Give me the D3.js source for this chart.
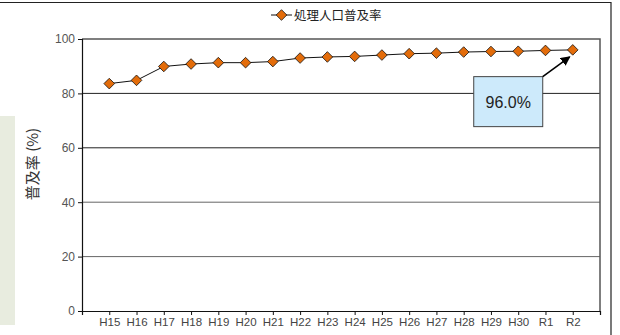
<!DOCTYPE html>
<html>
<head>
<meta charset="utf-8">
<script src="https://cdn.jsdelivr.net/npm/d3@7"></script>
<style>
  body { margin:0; background:#fff; }
  svg text { font-family:"Liberation Sans", Arial, sans-serif; }
</style>
</head>
<body>
<div id="canvas"></div>
<script>
// data
var years = ['H15','H16','H17','H18','H19','H20','H21','H22','H23','H24','H25','H26','H27','H28','H29','H30','R1','R2'];
var rate = [83.6,84.8,89.9,90.8,91.3,91.3,91.7,93.0,93.4,93.6,94.1,94.6,94.8,95.2,95.4,95.5,95.8,96.0];
var yTicks = [0,20,40,60,80,100];
var seriesName = '処理人口普及率';
var calloutText = '96.0%';

var W = 620, H = 335;
var m = {t:39, r:20, b:24, l:82};
var w = W - m.l - m.r,
    h = H - m.t - m.b;

var svg = d3.select('#canvas').append('svg')
    .attr('width', W).attr('height', H);

svg.append('defs').append('marker')
    .attr('id','arrow').attr('viewBox','0 0 10 10')
    .attr('refX',9).attr('refY',5)
    .attr('markerWidth',6).attr('markerHeight',6)
    .attr('orient','auto')
    .append('path').attr('d','M0,0L10,5L0,10z').attr('fill','#000');

// side panel + outer frame
svg.append('rect').attr('x',0).attr('y',116).attr('width',15).attr('height',209).attr('fill','#e8ecdf');
svg.append('path').attr('d','M0,2.5H611V335').attr('fill','none').attr('stroke','#222').attr('stroke-width',1.2);

var plot = svg.append('g').attr('transform','translate(' + m.l + ',' + m.t + ')');

var x = d3.scalePoint().domain(years).range([0, w]).padding(1);
var y = d3.scaleLinear().domain([0,100]).range([h, 0]);

// gridlines
plot.selectAll('.grid').data(yTicks.filter(function(d){ return d > 0 && d < 100; }))
    .enter().append('line')
    .attr('x1',0).attr('x2',w)
    .attr('y1',function(d){ return y(d); }).attr('y2',function(d){ return y(d); })
    .attr('stroke',function(d){ return d >= 60 ? '#222' : '#666'; })
    .attr('stroke-width',1);

// plot border top/right
plot.append('path').attr('d','M0,0H' + w + 'V' + h)
    .attr('fill','none').attr('stroke','#555').attr('stroke-width',1.5);

// axes
var axisY = d3.axisLeft(y).tickValues(yTicks).tickSize(4).tickPadding(3);
var gy = plot.append('g').call(axisY);
gy.select('.domain').attr('stroke','#111').attr('stroke-width',1.2);
gy.selectAll('.tick line').attr('stroke','#111');
gy.selectAll('.tick text').attr('fill','#555').style('font-size','12px');

var axisX = d3.axisBottom(x).tickSize(4).tickPadding(3).tickSizeOuter(4);
var gx = plot.append('g').attr('transform','translate(0,' + h + ')').call(axisX);
gx.select('.domain').attr('stroke','#111').attr('stroke-width',1.2);
gx.selectAll('.tick line').attr('stroke','#111');
gx.selectAll('.tick text').attr('fill','#444').style('font-size','11.5px');

// y title
svg.append('text')
    .attr('transform','translate(38,164) rotate(-90)')
    .attr('text-anchor','middle')
    .style('font-family','"Noto Sans CJK JP", sans-serif')
    .style('font-size','15px').attr('fill','#333')
    .text('普及率 (%)');

// line + markers
var line = d3.line()
    .x(function(d, i){ return x(years[i]); })
    .y(function(d){ return y(d); });

plot.append('path').datum(rate)
    .attr('d', line).attr('fill','none').attr('stroke','#111').attr('stroke-width',1);

var diamond = d3.symbol().type(d3.symbolDiamond2).size(72);
plot.selectAll('.pt').data(rate).enter().append('path')
    .attr('d', diamond)
    .attr('transform', function(d, i){ return 'translate(' + x(years[i]) + ',' + y(d) + ')'; })
    .attr('fill','#e36c0a').attr('stroke','#111').attr('stroke-width',0.8);

// callout
var last = rate.length - 1;
var bx = x(years[last]) - 99, by = y(88) + 5;
plot.append('rect').attr('x', bx).attr('y', by).attr('width', 69).attr('height', 50)
    .attr('fill','#cdeafb').attr('stroke','#444').attr('stroke-width',1);
plot.append('text').attr('x', bx + 34.5).attr('y', by + 31)
    .attr('text-anchor','middle').style('font-size','16px').attr('fill','#222')
    .text(calloutText);
plot.append('line')
    .attr('x1', bx + 69).attr('y1', by)
    .attr('x2', x(years[last]) - 3).attr('y2', y(rate[last]) + 7)
    .attr('stroke','#000').attr('stroke-width',1.6)
    .attr('marker-end','url(#arrow)');

// legend
var lg = svg.append('g').attr('transform','translate(271,15)');
lg.append('line').attr('x1',0).attr('x2',21).attr('stroke','#111').attr('stroke-width',1);
lg.append('path').attr('d', diamond).attr('transform','translate(10.5,0)')
    .attr('fill','#e36c0a').attr('stroke','#111').attr('stroke-width',0.8);
lg.append('text').attr('x',23).attr('y',4.5)
    .style('font-family','"Noto Sans CJK JP", sans-serif')
    .style('font-size','12.5px').attr('fill','#222')
    .text(seriesName);
</script>
</body>
</html>
